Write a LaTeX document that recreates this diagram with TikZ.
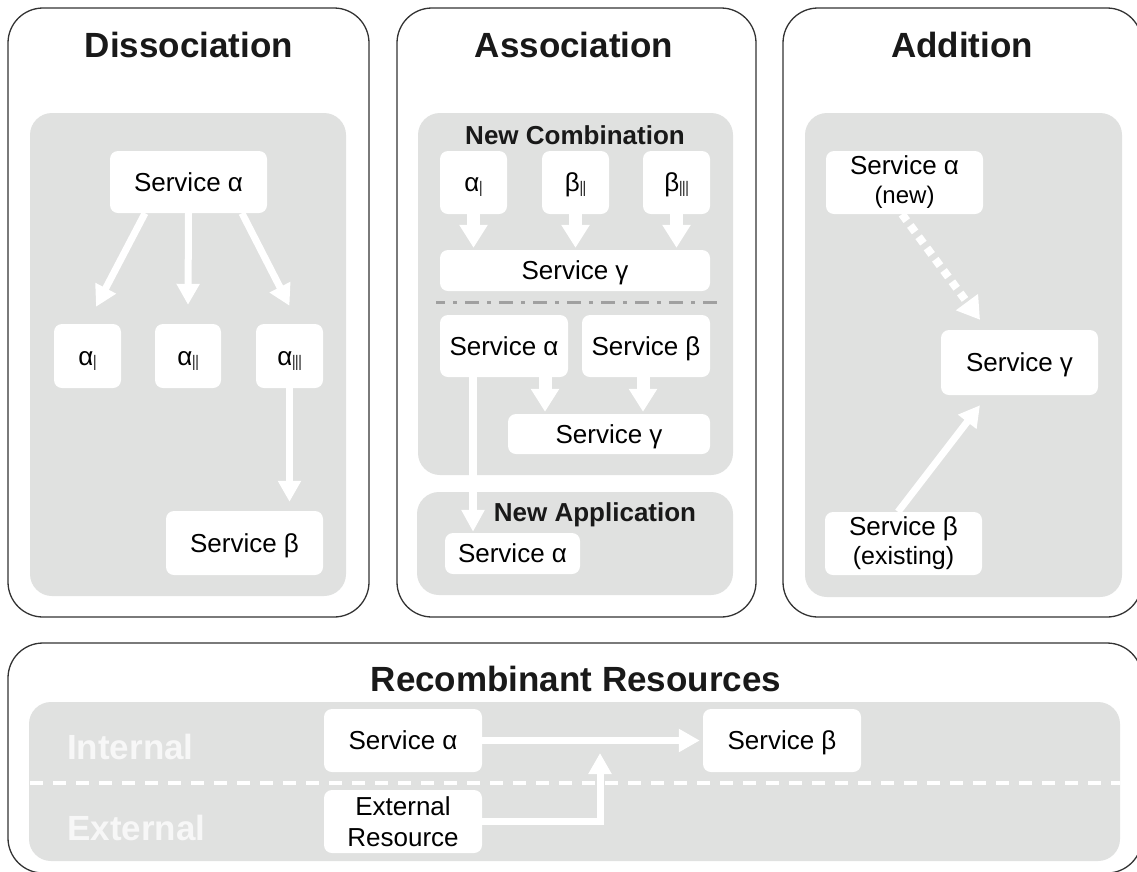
\documentclass[tikz,border=0pt]{standalone}
\usepackage{fontspec}
\usepackage{graphicx}
\setmainfont{Liberation Sans}
\usetikzlibrary{arrows.meta,calc}
\definecolor{zonegray}{HTML}{E0E1E0}
\definecolor{lanetext}{HTML}{F7F7F7}
\definecolor{edgecol}{HTML}{333333}
\definecolor{dashgray}{HTML}{A0A0A0}
\newcommand{\rnum}[1]{\raisebox{-5pt}{\scalebox{0.5}[1]{\fontsize{22}{22}\selectfont #1}}}
\begin{document}
\begin{tikzpicture}[x=1pt,y=-1pt,
  panel/.style={draw=edgecol, line width=1.3pt, rounded corners=35pt, fill=white, inner sep=0pt},
  zone/.style={fill=zonegray, rounded corners=22pt, inner sep=0pt},
  wbox/.style={fill=white, rounded corners=8pt, inner sep=0pt, text=black,
     font=\fontsize{26}{29}\selectfont, text height=18.6pt, text depth=0pt},
  wbox2/.style={fill=white, rounded corners=8pt, inner sep=0pt, text=black, align=center,
     font=\fontsize{26}{29}\selectfont},
  paneltitle/.style={font=\fontsize{35}{40}\selectfont\bfseries, text=black!90, inner sep=0pt},
  zonetitle/.style={font=\fontsize{26}{30}\selectfont\bfseries, text=black!90, inner sep=0pt},
  lane/.style={font=\fontsize{35}{40}\selectfont\bfseries, text=lanetext, anchor=west, inner sep=0pt},
  thinarr/.style={draw=white, line width=7pt, -{Triangle[width=22pt,length=21pt]}},
  longarr/.style={draw=white, line width=8pt, -{Triangle[width=22pt,length=22pt]}},
  fatarr/.style={draw=white, line width=13pt, -{Triangle[width=27pt,length=23pt]}},
  dotarr/.style={draw=white, line width=8pt, dash pattern=on 8pt off 6pt, -{Triangle[width=26pt,length=22pt]}}
]
\useasboundingbox (0,0) rectangle (1137,871);
\clip (0,0) rectangle (1137,871);

% panels
\node[panel, minimum width=361pt, minimum height=609pt] (P1) at (188.5,312.5) {};
\node[panel, minimum width=359pt, minimum height=609pt] (P2) at (576.5,312.5) {};
\node[panel, minimum width=359pt, minimum height=609pt] (P3) at (962.5,312.5) {};
\node[panel, minimum width=1134pt, minimum height=230pt] (P4) at (575,758) {};

% zones
\node[zone, minimum width=316pt, minimum height=483pt] (G1) at (188,354.5) {};
\node[zone, minimum width=315pt, minimum height=362pt] (G2a) at (575.5,294) {};
\node[zone, minimum width=316pt, minimum height=103pt] (G2b) at (575,543.5) {};
\node[zone, minimum width=317pt, minimum height=484pt] (G3) at (963.5,355) {};
\node[zone, minimum width=1091pt, minimum height=159pt] (G4) at (574.5,781.5) {};

% titles
\node[paneltitle] (T1) at (189,45) {Dissociation};
\node[paneltitle] (T2) at (574,45) {Association};
\node[paneltitle] (T3) at (962,45) {Addition};
\node[paneltitle] (T4) at (576,679) {Recombinant Resources};
\node[zonetitle] (T5) at (575,135) {New Combination};
\node[zonetitle] (T6) at (595,515) {New Application};
\node[lane] (L1) at (67,747) {Internal};
\node[lane] (L2) at (67,828) {External};

% separators
\draw[dashgray, line width=3pt, dash pattern=on 9pt off 8pt on 4pt off 8pt on 14pt off 8pt on 4pt off 8pt on 5pt off 0pt] (436,302) -- (717,302);
\draw[white, line width=4pt, dash pattern=on 13pt off 10pt] (30,783) -- (1120,783);

% Dissociation boxes
\node[wbox, minimum width=157pt, minimum height=62pt] (d_sa) at (188.5,182) {Service α};
\node[wbox, minimum width=67pt, minimum height=64pt] (d_a1) at (87.5,356) {α\rnum{I}};
\node[wbox, minimum width=66pt, minimum height=64pt] (d_a2) at (188,356) {α\rnum{II}};
\node[wbox, minimum width=67pt, minimum height=64pt] (d_a3) at (289.5,356) {α\rnum{III}};
\node[wbox, minimum width=157pt, minimum height=64pt] (d_sb) at (244.5,543) {Service β};

% Association boxes
\node[wbox, minimum width=67pt, minimum height=63pt] (c_a1) at (473.5,182.5) {α\rnum{I}};
\node[wbox, minimum width=67pt, minimum height=63pt] (c_b2) at (575.5,182.5) {β\rnum{II}};
\node[wbox, minimum width=67pt, minimum height=63pt] (c_b3) at (676.5,182.5) {β\rnum{III}};
\node[wbox, minimum width=270pt, minimum height=41pt] (c_sg1) at (575,270.5) {Service γ};
\node[wbox, minimum width=128pt, minimum height=62pt] (c_sa) at (504,346) {Service α};
\node[wbox, minimum width=128pt, minimum height=62pt] (c_sb) at (646,346) {Service β};
\node[wbox, minimum width=202pt, minimum height=40pt] (c_sg2) at (609,434) {Service γ};
\node[wbox, minimum width=135pt, minimum height=41pt] (c_sa3) at (512.5,553.5) {Service α};

% Addition boxes
\node[wbox2, minimum width=157pt, minimum height=63pt] (a_sa) at (904.5,182.5)
  {Service α\\{\fontsize{24}{28}\selectfont (new)}};
\node[wbox, minimum width=157pt, minimum height=65pt] (a_sg) at (1019.5,362.5) {Service γ};
\node[wbox2, minimum width=157pt, minimum height=63pt] (a_sb) at (903.5,543.5)
  {Service β\\{\fontsize{25}{28}\selectfont (existing)}};

% Recombinant boxes
\node[wbox, minimum width=158pt, minimum height=63pt] (r_sa) at (403,740.5) {Service α};
\node[wbox2, minimum width=158pt, minimum height=63pt, font=\fontsize{26}{31}\selectfont] (r_er) at (403,821.5)
  {External\\Resource};
\node[wbox, minimum width=158pt, minimum height=63pt] (r_sb) at (782,740.5) {Service β};

% Dissociation arrows
\draw[thinarr] ([xshift=-43.5pt]d_sa.south) -- ([xshift=8.5pt,yshift=17pt]d_a1.north);
\draw[thinarr] (d_sa.south) -- ([yshift=19pt]d_a2.north);
\draw[thinarr] ([xshift=53.5pt]d_sa.south) -- ([yshift=18pt]d_a3.north);
\draw[thinarr, shorten >=9pt] (d_a3.south) -- (d_a3.south |- d_sb.north);

% Association arrows
\draw[fatarr, shorten >=2pt] (c_a1.south) -- (c_a1.south |- c_sg1.north);
\draw[fatarr, shorten >=2pt] (c_b2.south) -- (c_b2.south |- c_sg1.north);
\draw[fatarr, shorten >=2pt] (c_b3.south) -- (c_b3.south |- c_sg1.north);
\coordinate (c_sa_r) at ([xshift=41pt]c_sa.south);
\coordinate (c_sb_d) at ([xshift=-3pt]c_sb.south);
\coordinate (c_sa_l) at ([xshift=-31pt]c_sa.south);
\draw[fatarr, shorten >=2pt] (c_sa_r) -- (c_sa_r |- c_sg2.north);
\draw[fatarr, shorten >=2pt] (c_sb_d) -- (c_sb_d |- c_sg2.north);
\draw[longarr, shorten >=1pt] (c_sa_l) -- (c_sa_l |- c_sa3.north);

% Addition arrows
\draw[dotarr] ([xshift=-2.5pt]a_sa.south) -- ([xshift=-39.5pt,yshift=10pt]a_sg.north);
\draw[thinarr] ([xshift=-5.5pt]a_sb.north) -- ([xshift=-39.5pt,yshift=-10pt]a_sg.south);

% Recombinant arrows
\draw[thinarr, shorten >=3pt] (r_sa.east) -- (r_sb.west);
\coordinate (join) at (600,753);
\draw[thinarr] (r_er.east) -| (join);
\end{tikzpicture}
\end{document}
